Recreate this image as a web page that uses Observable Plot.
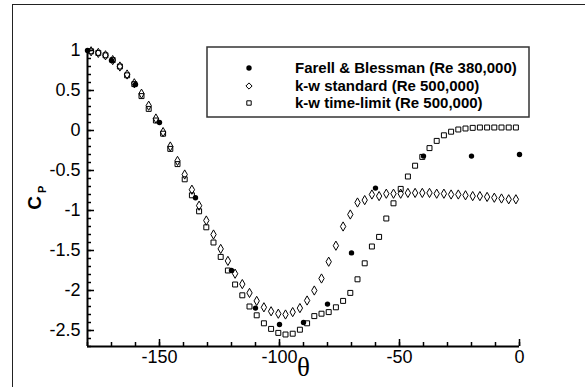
<!DOCTYPE html>
<html><head><meta charset="utf-8">
<script src="https://cdn.jsdelivr.net/npm/d3@7"></script>
<script src="https://cdn.jsdelivr.net/npm/@observablehq/plot@0.6"></script>
<style>
html,body{margin:0;padding:0;background:#fff;}
#wrap{position:relative;width:585px;height:387px;overflow:hidden;}
#frame{position:absolute;left:12px;top:4px;width:700px;height:500px;border-left:1.5px solid #222;border-top:1.5px solid #222;}
#wrap svg{position:absolute;left:0;top:0;}
</style></head><body><div id="wrap"><div id="frame"></div></div>
<script>
// Experimental data: Farell & Blessman (Re 380,000)
const expTheta = [-180,-170,-160,-150,-135,-120,-110,-100,-90,-80,-70,-60,-40,-20,0];
const expCp = [1.0,0.875,0.575,0.1,-0.84,-1.75,-2.22,-2.425,-2.40,-2.17,-1.53,-0.72,-0.32,-0.32,-0.30];

// Model angles (k-w computations)
const modelTheta = [-178.5,-175.5,-172.5,-169.5,-166.5,-163.5,-160.5,-157.5,-154.5,-151.5,
  -148.5,-145.5,-142.5,-139.5,-136.5,-133.5,-130.5,-127.5,-124.5,-121.5,
  -118.5,-115.5,-112.5,-109.5,-106.5,-103.5,-100.5,-97.5,-94.5,-91.5,
  -88.5,-85.5,-82.5,-79.5,-76.5,-73.5,-70.5,-67.5,-64.5,-61.5,
  -58.5,-55.5,-52.5,-49.5,-46.5,-43.5,-40.5,-37.5,-34.5,-31.5,
  -28.5,-25.5,-22.5,-19.5,-16.5,-13.5,-10.5,-7.5,-4.5,-1.5];
// k-w standard (Re 500,000)
const standardCp = [0.99,0.97,0.94,0.88,0.80,0.70,0.59,0.46,0.31,0.15,
  -0.02,-0.20,-0.38,-0.55,-0.74,-0.94,-1.125,-1.30,-1.48,-1.63,
  -1.79,-1.92,-2.03,-2.13,-2.21,-2.26,-2.29,-2.30,-2.27,-2.22,
  -2.125,-2.0,-1.85,-1.64,-1.44,-1.2,-1.05,-0.90,-0.87,-0.80,
  -0.82,-0.79,-0.79,-0.79,-0.78,-0.78,-0.78,-0.78,-0.79,-0.79,
  -0.80,-0.80,-0.81,-0.82,-0.82,-0.83,-0.84,-0.85,-0.86,-0.86];
// k-w time-limit (Re 500,000)
const timeLimitCp = [0.99,0.97,0.94,0.88,0.80,0.69,0.58,0.43,0.27,0.125,
  -0.04,-0.23,-0.42,-0.61,-0.81,-1.01,-1.21,-1.40,-1.58,-1.75,
  -1.925,-2.06,-2.20,-2.31,-2.41,-2.48,-2.53,-2.55,-2.54,-2.49,
  -2.41,-2.32,-2.29,-2.27,-2.21,-2.13,-2.03,-1.86,-1.66,-1.45,
  -1.33,-1.10,-0.91,-0.73,-0.575,-0.44,-0.33,-0.22,-0.13,-0.06,
  -0.015,0.0125,0.025,0.033,0.0375,0.0375,0.0375,0.0375,0.0375,0.0375];

const seriesNames = ["Farell & Blessman (Re 380,000)", "k-w standard (Re 500,000)", "k-w time-limit (Re 500,000)"];
const xTicks = [-150,-100,-50,0];
const xMinor = [-180,-170,-160,-150,-140,-130,-120,-110,-100,-90,-80,-70,-60,-50,-40,-30,-20,-10,0];
const yTicks = [1,0.5,0,-0.5,-1,-1.5,-2,-2.5];
const yMinor = [1,0.9,0.8,0.7,0.6,0.5,0.4,0.3,0.2,0.1,0,-0.1,-0.2,-0.3,-0.4,-0.5,-0.6,-0.7,-0.8,-0.9,
  -1,-1.1,-1.2,-1.3,-1.4,-1.5,-1.6,-1.7,-1.8,-1.9,-2,-2.1,-2.2,-2.3,-2.4,-2.5,-2.6,-2.7];
const X0 = -180, Y0 = -2.7;

const expData = expTheta.map((t, i) => ({theta: t, cp: expCp[i]}));
const stdData = modelTheta.map((t, i) => ({theta: t, cp: standardCp[i]}));
const tlData = modelTheta.map((t, i) => ({theta: t, cp: timeLimitCp[i]}));

const R_CIRCLE = 2.7, R_DIAMOND = 2.8, R_SQUARE = 2.8;

const chart = Plot.plot({
  width: 585, height: 387,
  marginLeft: 87, marginRight: 66, marginTop: 50, marginBottom: 41,
  x: {domain: [X0, 0], label: null},
  y: {domain: [Y0, 1], label: null},
  style: {fontFamily: "'Liberation Sans', Arial, sans-serif", fontSize: "18px", color: "#000", background: "transparent"},
  marks: [
    // inward ticks on x axis (zero-length rules extended by negative inset)
    Plot.ruleX(xMinor, {x: d => d, y1: () => Y0, y2: () => Y0, insetTop: -4, stroke: "#000", strokeWidth: 1.5}),
    Plot.ruleX(xTicks, {x: d => d, y1: () => Y0, y2: () => Y0, insetTop: -7, stroke: "#000", strokeWidth: 1.5}),
    // inward ticks on y axis
    Plot.ruleY(yMinor, {y: d => d, x1: () => X0, x2: () => X0, insetRight: -4, stroke: "#000", strokeWidth: 1.5}),
    Plot.ruleY(yTicks, {y: d => d, x1: () => X0, x2: () => X0, insetRight: -7, stroke: "#000", strokeWidth: 1.5}),
    Plot.axisX({ticks: xTicks, tickSize: 0, tickPadding: 4, tickFormat: d => String(d), fontSize: 18, label: null}),
    Plot.axisY({ticks: yTicks, tickSize: 0, tickPadding: 7, tickFormat: d => String(d), fontSize: 18, label: null}),
    Plot.ruleY([Y0], {strokeWidth: 2}),
    Plot.ruleX([X0], {strokeWidth: 2}),
    Plot.dot(stdData, {x: "theta", y: "cp", symbol: "diamond", r: R_DIAMOND, stroke: "#000", fill: "none", strokeWidth: 1}),
    Plot.dot(tlData, {x: "theta", y: "cp", symbol: "square", r: R_SQUARE, stroke: "#000", fill: "none", strokeWidth: 1}),
    Plot.dot(expData, {x: "theta", y: "cp", symbol: "circle", r: R_CIRCLE, fill: "#000", stroke: "none"}),
    Plot.text(["θ"], {x: -90, frameAnchor: "bottom", dy: 29, fontFamily: "'Liberation Serif', 'DejaVu Serif', serif", fontSize: 27}),
    Plot.text(["C"], {y: -0.99, frameAnchor: "left", dx: -53, rotate: -90, fontWeight: "bold", fontSize: 19}),
    Plot.text(["P"], {y: -0.78, frameAnchor: "left", dx: -45, rotate: -90, fontWeight: "bold", fontSize: 11})
  ]
});
document.getElementById("wrap").appendChild(chart);

// Legend
const svg = d3.select(chart);
const lg = svg.append("g").attr("text-anchor", "start");
lg.append("rect").attr("x", 207).attr("y", 47).attr("width", 322).attr("height", 70)
  .attr("fill", "#fff").attr("stroke", "#333").attr("stroke-width", 1.5);
const rows = [
  {y: 68, sym: d3.symbolCircle, r: R_CIRCLE, fill: "#000", stroke: "none"},
  {y: 86, sym: d3.symbolDiamond2, r: R_DIAMOND, fill: "none", stroke: "#000"},
  {y: 103, sym: d3.symbolSquare2, r: R_SQUARE, fill: "none", stroke: "#000"}
];
rows.forEach((row, i) => {
  lg.append("path").attr("transform", `translate(249,${row.y})`)
    .attr("d", d3.symbol(row.sym, Math.PI * row.r * row.r)())
    .attr("fill", row.fill).attr("stroke", row.stroke).attr("stroke-width", 1);
  lg.append("text").attr("x", 295).attr("y", row.y).attr("dy", "0.35em")
    .attr("text-anchor", "start")
    .attr("font-family", "'Liberation Sans', Arial, sans-serif").attr("font-weight", "bold")
    .attr("font-size", 15).attr("fill", "#000").text(seriesNames[i]);
});
</script></body></html>
